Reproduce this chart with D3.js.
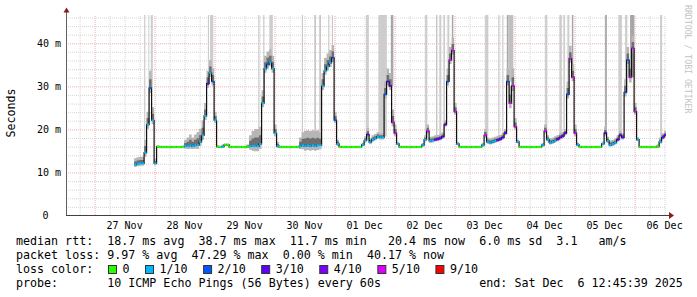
<!DOCTYPE html>
<html>
<head>
<meta charset="utf-8">
<script src="https://cdn.jsdelivr.net/npm/d3@7"></script>
<style>
  body { margin: 0; background: #fff; }
  text { font-family: "DejaVu Sans Mono", monospace; white-space: pre; }
</style>
</head>
<body>
<svg id="chart" width="697" height="297"></svg>
<script>
var start = new Date(2025, 10, 26, 12, 45, 39);
var end = new Date(2025, 11, 6, 12, 45, 39);
var first = new Date(2025, 10, 27, 0, 0, 0); // hourly rows start at midnight 27 Nov

// median rtt in ms, one row per day, one value per hour
var median = [
  [null,null,null,null,null,null,null,null,null,null,null,null,null,null,null,null, 11.7,11.9,12.0,12.0,14.5,21.0,29.5,22.0],
  [12.0,15.9,15.8,15.8,15.8,15.8,15.8,15.8,15.8,15.8,15.8,15.8, 16.0,16.0,16.2,16.0,16.2,16.3,17.0,18.5,23.0,30.5,33.0,31.0],
  [22.0,15.9,15.8,15.9,16.3,16.3,15.8,15.8,15.8,15.8,15.8,15.8, 15.8,15.9,16.0,16.0,16.0,16.0,16.5,26.0,34.0,35.0,35.5,34.0],
  [19.0,16.0,15.8,15.8,15.8,15.8,15.8,15.8,15.8,15.8,16.0,16.2, 16.0,16.2,16.0,16.2,16.0,16.2,16.2,30.0,33.5,34.5,35.3,36.5],
  [22.0,16.5,15.8,15.8,15.8,15.8,15.8,15.8,15.8,15.8,15.8,16.3, 17.3,18.7,16.9,17.5,17.8,18.2,18.0,18.0,28.0,31.0,30.0,21.5],
  [19.0,16.5,15.8,15.8,15.8,15.8,15.8,15.8,15.8,15.8,15.8,16.2, 17.5,19.5,17.2,17.3,17.5,17.6,17.8,18.2,21.0,31.0,36.0,38.2],
  [24.0,16.5,15.8,15.8,15.8,15.8,15.8,15.8,15.8,15.8,15.8,16.2, 18.5,17.0,16.8,17.0,17.2,17.4,17.6,18.0,19.0,31.0,26.0,30.0],
  [20.5,17.0,15.8,15.8,15.8,15.8,15.8,15.8,15.8,15.8,15.8,16.2, 19.5,17.5,16.8,17.0,17.3,17.6,18.0,18.3,19.0,28.0,36.3,32.0],
  [19.0,16.3,15.8,15.8,15.8,15.8,15.8,15.8,15.8,15.8,15.8,16.5, 19.0,17.2,16.3,16.5,16.8,17.5,18.5,18.0,28.5,36.0,32.0,38.7],
  [24.0,17.5,15.8,15.8,15.8,15.8,15.8,15.8,15.8,15.9,17.0,18.0, 18.5]
];

// packet loss class per hour (index into lossColors)
var loss = [
  [0,0,0,0,0,0,0,0,0,0,0,0,0,0,0,0, 1,1,1,1,1,1,2,1],
  [1,0,0,0,0,0,0,0,0,0,0,0, 1,1,1,1,1,1,1,1,1,3,1,2],
  [1,0,0,1,0,0,0,0,0,0,0,0, 0,0,1,1,1,1,1,1,1,2,1,1],
  [1,1,0,0,0,0,0,0,0,0,1,1, 1,1,1,1,1,1,1,1,1,1,1,2],
  [2,1,0,0,0,0,0,0,0,0,0,1, 1,3,1,1,1,1,1,1,2,3,3,5],
  [5,1,0,0,0,0,0,0,0,0,0,1, 1,5,1,1,3,3,3,3,3,2,5,5],
  [5,1,0,0,0,0,0,0,0,0,0,1, 5,1,1,1,1,3,3,3,3,2,5,5],
  [5,1,0,0,0,0,0,0,0,0,0,1, 5,1,1,1,1,3,3,3,3,2,5,5],
  [5,1,0,0,0,0,0,0,0,0,0,1, 3,1,1,1,1,3,3,3,2,2,5,5],
  [5,1,0,0,0,0,0,0,0,0,1,3, 3]
];

// how far the smoke reaches above the median (ms)
var smoke = [
  [0,0,0,0,0,0,0,0,0,0,0,0,0,0,0,0, 1.5,1.5,1.5,1.5,3,3,4,3],
  [1,0.3,0.3,0.3,0.3,0.3,0.3,0.3,0.3,0.3,0.3,0.3, 1.5,2,2.5,2,2.5,3,3,3.5,3,3,3,3],
  [2,0.3,0.3,0.5,0.3,0.3,0.3,0.3,0.3,0.3,0.3,0.3, 0.3,0.5,2.5,3.5,4,4,4,3,3,3,3,3],
  [2,1,0.3,0.3,0.3,0.3,0.3,0.3,0.3,0.3,2,3, 3.5,3.5,3.5,3.5,3.5,3.5,3,3,3,3,3,3],
  [2,1,0.3,0.3,0.3,0.3,0.3,0.3,0.3,0.3,0.3,0.5, 1,1.5,1,1,1,1,1,1,3,3,3,3],
  [2,0.5,0.3,0.3,0.3,0.3,0.3,0.3,0.3,0.3,0.3,0.5, 1,1.5,1,1,1,1,1,1,1,3,3,3],
  [2,0.5,0.3,0.3,0.3,0.3,0.3,0.3,0.3,0.3,0.3,0.5, 1.5,1,1,1,1,1,1,1,1,3,4,4],
  [2,0.5,0.3,0.3,0.3,0.3,0.3,0.3,0.3,0.3,0.3,0.5, 1.5,1,1,1,1,1,1,1,1,3,3,3],
  [2,0.5,0.3,0.3,0.3,0.3,0.3,0.3,0.3,0.3,0.3,0.5, 1.5,1,1,1,1,1,1,1,3,3,4,3],
  [2,0.5,0.3,0.3,0.3,0.3,0.3,0.3,0.3,0.5,1,1, 1]
];

// outlier pings above the top of the graph: [from hour, to hour, shade], hours since 27 Nov 00:00
var spikes = [
  [20.0,20.5,0],[21.7,22.1,0],[22.7,23.5,0],
  [45.5,46.0,0],[46.4,47.7,0],
  [65.7,66.1,1],[67.7,67.9,1],[70.1,71.5,0],
  [83.1,83.5,1],[88.1,88.7,1],[90.1,90.7,1],[93.7,93.9,1],[95.1,95.3,1],
  [108.8,109.9,0],
  [113.7,117.1,0],[118.7,119.7,2],
  [132.4,133.3,0],[136.8,137.3,1],[138.1,138.9,0],[139.7,140.4,0],[141.3,142.1,0],[143.1,143.7,2],
  [156.4,157.7,0],
  [161.7,162.1,1],[163.3,163.7,1],[165.1,165.7,2],[165.7,167.7,1],
  [180.4,181.3,0],[186.1,187.1,0],[187.7,188.4,0],[189.3,190.1,0],[191.1,191.7,2],
  [204.4,205.1,2],
  [209.7,211.1,0],[212.4,213.3,0],[214.4,216.1,2],
  [226.4,227.2,0]
];

var lossColors = ["#26ff00", "#00b8ff", "#0059ff", "#5e00ff", "#7e00ff", "#dd00ff", "#ff0000"];
var lossLabels = ["0", "1/10", "2/10", "3/10", "4/10", "5/10", "9/10"];
var spikeShades = ["#cdcdcd", "#c0c0c0", "#a6a6a6"];
var yTicks = [0, 10, 20, 30, 40];

var statsRtt = "median rtt:  18.7 ms avg  38.7 ms max  11.7 ms min   20.4 ms now  6.0 ms sd  3.1   am/s";
var statsLoss = "packet loss: 9.97 % avg  47.29 % max  0.00 % min  40.17 % now";
var probeLine = "probe:       10 ICMP Echo Pings (56 Bytes) every 60s";
var endLine = "end: Sat Dec  6 12:45:39 2025";

var svg = d3.select("#chart");
var plot = {left: 66, right: 666, top: 15, bottom: 215};

var x = d3.scaleTime().domain([start, end]).range([plot.left, plot.right]);
var y = d3.scaleLinear().domain([0, 46.45]).range([plot.bottom, plot.top]);

var medAll = [].concat.apply([], median);
var lossAll = [].concat.apply([], loss);
var smokeAll = [].concat.apply([], smoke);

var points = medAll.map(function(v, i) {
    return {t: d3.timeHour.offset(first, i), v: v, loss: lossAll[i], up: smokeAll[i]};
});
var last = points[points.length - 1];
var pointsEnd = points.concat([{t: end, v: last.v, loss: last.loss, up: last.up}]);

// grid
var minorX = d3.timeHour.every(6).range(start, end).filter(function(d) { return d.getHours() !== 0; });
var majorX = d3.timeDay.range(start, end);
var minorY = d3.range(2, 46.45, 2).filter(function(d) { return d % 10 !== 0; });
var majorY = [10, 20, 30, 40];

function gridX(values, color) {
    var g = svg.append("g").attr("transform", "translate(0.5," + plot.bottom + ")")
        .call(d3.axisBottom(x).tickValues(values).tickSize(-(plot.bottom - plot.top)).tickFormat(""));
    g.select(".domain").remove();
    g.selectAll("line").attr("stroke", color).attr("stroke-dasharray", "1,1");
}
function gridY(values, color) {
    var g = svg.append("g").attr("transform", "translate(" + plot.left + ",0.5)")
        .call(d3.axisLeft(y).tickValues(values).tickSize(-(plot.right - plot.left)).tickFormat(""));
    g.select(".domain").remove();
    g.selectAll("line").attr("stroke", color).attr("stroke-dasharray", "1,1");
}
gridX(minorX, "#d6d6d6");
gridY(minorY, "#d6d6d6");
gridX(majorX, "#efb0b0");
gridY(majorY, "#efb0b0");

// outliers reaching the top
function medianAt(h) {
    var v = medAll[Math.floor(h)];
    return v == null ? 16 : v;
}
svg.append("g").selectAll("rect").data(spikes).enter().append("rect")
    .attr("x", function(d) { return x(new Date(+first + d[0] * 3600e3)); })
    .attr("width", function(d) { return Math.max(1, x(new Date(+first + d[1] * 3600e3)) - x(new Date(+first + d[0] * 3600e3))); })
    .attr("y", plot.top)
    .attr("height", function(d) { return y(medianAt(d[0])) - plot.top; })
    .attr("fill", function(d) { return spikeShades[d[2]]; });

// smoke
var outer = d3.area().curve(d3.curveStepAfter)
    .defined(function(d) { return d.v != null; })
    .x(function(d) { return x(d.t); })
    .y0(function(d) { return y(d.v - 0.2 - d.up * 0.25); })
    .y1(function(d) { return y(d.v + d.up); });
var inner = d3.area().curve(d3.curveStepAfter)
    .defined(function(d) { return d.v != null; })
    .x(function(d) { return x(d.t); })
    .y0(function(d) { return y(d.v - 0.1); })
    .y1(function(d) { return y(d.v + d.up * 0.5); });
svg.append("path").datum(pointsEnd).attr("d", outer).attr("fill", "#b6b6b6");
svg.append("path").datum(pointsEnd).attr("d", inner).attr("fill", "#6e6e6e");

// median line
var medLine = d3.line().curve(d3.curveStepAfter)
    .defined(function(d) { return d.v != null; })
    .x(function(d) { return x(d.t); })
    .y(function(d) { return y(d.v); });
svg.append("path").datum(pointsEnd).attr("d", medLine)
    .attr("fill", "none").attr("stroke", "#111").attr("stroke-width", 1.2);

var segs = points.filter(function(d) { return d.v != null; });
svg.append("g").selectAll("line").data(segs).enter().append("line")
    .attr("x1", function(d) { return x(d.t); })
    .attr("x2", function(d) { return Math.min(x(d3.timeHour.offset(d.t, 1)), plot.right); })
    .attr("y1", function(d) { return y(d.v); })
    .attr("y2", function(d) { return y(d.v); })
    .attr("stroke", function(d) { return lossColors[d.loss]; })
    .attr("stroke-width", 2);

// axes
svg.append("line").attr("x1", plot.left + 0.5).attr("x2", plot.left + 0.5)
    .attr("y1", plot.bottom).attr("y2", 11).attr("stroke", "#606060");
svg.append("line").attr("x1", plot.left).attr("x2", 671)
    .attr("y1", plot.bottom + 0.5).attr("y2", plot.bottom + 0.5).attr("stroke", "#404040");
svg.append("path").attr("d", "M63.5,12.5L66.5,7.5L69.5,12.5Z").attr("fill", "#8b1a1a");
svg.append("path").attr("d", "M669,212L674,215.5L669,219Z").attr("fill", "#8b1a1a");

var yAxis = svg.append("g").attr("transform", "translate(" + plot.left + ",0)")
    .call(d3.axisLeft(y).tickValues(yTicks).tickSize(0).tickPadding(5)
        .tickFormat(function(d) { return d === 0 ? "0" : d + " m"; }));
yAxis.select(".domain").remove();
yAxis.selectAll("text").attr("font-family", "DejaVu Sans Mono").attr("font-size", 10)
    .attr("fill", "#000").attr("dy", "0.36em")
    .filter(function(d) { return d === 0; }).attr("dx", -12.5);

var noon = d3.timeDay.range(first, end).map(function(d) { return d3.timeHour.offset(d, 12); });
var xAxis = svg.append("g").attr("transform", "translate(0," + plot.bottom + ")")
    .call(d3.axisBottom(x).tickValues(noon).tickSize(0).tickFormat(d3.timeFormat("%d %b")));
xAxis.select(".domain").remove();
xAxis.selectAll("text").attr("font-family", "DejaVu Sans Mono").attr("font-size", 10)
    .attr("fill", "#000").attr("y", 13.5).attr("dy", 0);

svg.append("text").attr("transform", "translate(15,113) rotate(-90)")
    .attr("text-anchor", "middle").attr("font-size", 11.6).attr("fill", "#000").text("Seconds");

svg.append("text").attr("transform", "translate(685,5) rotate(90)")
    .attr("font-size", 8.2).attr("fill", "#c4c4c4").text("RRDTOOL / TOBI OETIKER");

// legend
var cw = 7.02;
var legend = svg.append("g").attr("font-size", 11.66).attr("fill", "#000");
legend.append("text").attr("x", 16).attr("y", 245).attr("xml:space", "preserve").text(statsRtt);
legend.append("text").attr("x", 16).attr("y", 259).attr("xml:space", "preserve").text(statsLoss);
legend.append("text").attr("x", 16).attr("y", 273).text("loss color:");
legend.append("text").attr("x", 16).attr("y", 287).attr("xml:space", "preserve").text(probeLine);
legend.append("text").attr("x", 16 + 66 * cw).attr("y", 287).attr("xml:space", "preserve").text(endLine);

var bx = 108;
lossLabels.forEach(function(lab, i) {
    legend.append("rect").attr("x", bx + 0.5).attr("y", 265.5).attr("width", 8).attr("height", 8)
        .attr("fill", lossColors[i]).attr("stroke", "#333").attr("stroke-width", 1);
    legend.append("text").attr("x", bx + 14.5).attr("y", 273).text(lab);
    bx = bx + 14.5 + lab.length * cw + 15.5;
});
</script>
</body>
</html>
